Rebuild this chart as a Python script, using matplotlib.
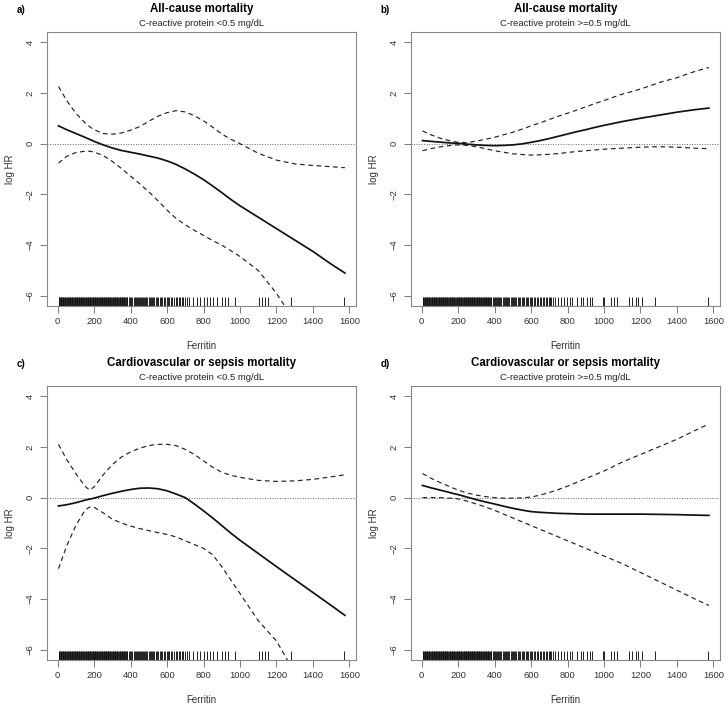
import matplotlib
matplotlib.use('Agg')
import matplotlib.pyplot as plt
import matplotlib.transforms as mtransforms

plt.rcParams['font.family'] = ['Liberation Sans', 'DejaVu Sans']

ferritin = [5, 50, 100, 150, 175, 200, 250, 300, 350, 400, 450, 500, 550, 600, 650,
            700, 750, 800, 850, 900, 950, 1000, 1100, 1200, 1300, 1400, 1500, 1575]

# a) all-cause, CRP < 0.5
a_fit = [0.70, 0.55, 0.40, 0.25, 0.17, 0.09, -0.05, -0.17, -0.27, -0.34, -0.41, -0.49, -0.57, -0.68,
         -0.82, -1.00, -1.20, -1.42, -1.67, -1.93, -2.20, -2.45, -2.90, -3.35, -3.80, -4.25, -4.75, -5.10]
a_up = [2.25, 1.70, 1.20, 0.82, 0.67, 0.55, 0.40, 0.37, 0.42, 0.53, 0.67, 0.88, 1.08, 1.22, 1.30,
        1.25, 1.10, 0.90, 0.65, 0.38, 0.17, 0.00, -0.38, -0.65, -0.80, -0.86, -0.91, -0.95]
a_lo = [-0.77, -0.50, -0.35, -0.30, -0.30, -0.33, -0.47, -0.70, -0.98, -1.28, -1.58, -1.90, -2.25, -2.62,
        -2.95, -3.20, -3.42, -3.62, -3.82, -4.00, -4.22, -4.45, -5.00, -5.90, -7.00, -8.20, -9.40, -10.30]

# b) all-cause, CRP >= 0.5
b_fit = [0.12, 0.09, 0.06, 0.03, 0.02, 0.01, -0.02, -0.05, -0.07, -0.08, -0.07, -0.05, -0.01, 0.05,
         0.12, 0.20, 0.29, 0.38, 0.47, 0.55, 0.64, 0.72, 0.87, 1.00, 1.12, 1.24, 1.34, 1.40]
b_up = [0.50, 0.35, 0.22, 0.12, 0.08, 0.05, 0.04, 0.10, 0.17, 0.25, 0.35, 0.45, 0.57, 0.70, 0.82,
        0.95, 1.08, 1.20, 1.32, 1.45, 1.58, 1.70, 1.95, 2.15, 2.40, 2.60, 2.85, 3.00]
b_lo = [-0.28, -0.20, -0.13, -0.08, -0.06, -0.05, -0.07, -0.12, -0.20, -0.28, -0.34, -0.40, -0.43, -0.45,
        -0.44, -0.42, -0.39, -0.35, -0.31, -0.28, -0.25, -0.22, -0.18, -0.14, -0.12, -0.14, -0.18, -0.20]

# c) cardiovascular or sepsis, CRP < 0.5
c_fit = [-0.33, -0.28, -0.20, -0.10, -0.06, -0.02, 0.08, 0.17, 0.25, 0.32, 0.37, 0.38, 0.35, 0.27,
         0.14, 0.00, -0.25, -0.52, -0.80, -1.10, -1.40, -1.68, -2.20, -2.72, -3.23, -3.74, -4.25, -4.64]
c_up = [2.10, 1.50, 0.95, 0.45, 0.30, 0.42, 0.90, 1.30, 1.60, 1.80, 1.95, 2.05, 2.10, 2.10, 2.05,
        1.90, 1.70, 1.45, 1.20, 1.00, 0.88, 0.80, 0.68, 0.64, 0.66, 0.72, 0.82, 0.90]
c_lo = [-2.80, -1.90, -1.10, -0.50, -0.37, -0.38, -0.60, -0.85, -1.00, -1.12, -1.22, -1.30, -1.38, -1.45,
        -1.55, -1.70, -1.85, -2.00, -2.25, -2.72, -3.25, -3.78, -4.85, -5.65, -6.90, -8.10, -9.30, -10.20]

# d) cardiovascular or sepsis, CRP >= 0.5
d_fit = [0.48, 0.39, 0.30, 0.21, 0.16, 0.12, 0.02, -0.08, -0.17, -0.25, -0.34, -0.42, -0.49, -0.55,
         -0.58, -0.60, -0.62, -0.63, -0.64, -0.65, -0.65, -0.65, -0.65, -0.65, -0.66, -0.67, -0.69, -0.70]
d_up = [0.95, 0.77, 0.60, 0.45, 0.37, 0.30, 0.18, 0.10, 0.04, 0.00, -0.02, -0.02, -0.01, 0.02,
        0.10, 0.20, 0.32, 0.45, 0.60, 0.75, 0.90, 1.05, 1.40, 1.70, 2.00, 2.30, 2.65, 2.90]
d_lo = [0.00, 0.00, 0.00, -0.02, -0.03, -0.05, -0.14, -0.25, -0.37, -0.50, -0.65, -0.80, -0.95, -1.10,
        -1.25, -1.40, -1.55, -1.70, -1.85, -2.00, -2.15, -2.30, -2.60, -2.95, -3.30, -3.65, -4.00, -4.25]

# observed ferritin values (rug)
rug_dense = [6, 9, 13, 17, 21, 24, 28, 32, 36, 40, 43, 47, 51, 55, 59, 62, 66, 70, 74, 78, 81, 85,
             89, 93, 97, 100, 104, 108, 112, 116, 119, 123, 127, 131, 135, 138, 142, 146, 150, 154,
             157, 161, 165, 169, 173, 176, 180, 184, 188, 192, 195, 199, 203, 207, 211, 214, 218,
             222, 226, 230, 233, 237, 241, 245, 249, 252, 256, 260, 264, 268, 271, 275, 279, 283,
             287, 290, 294, 298, 302, 306, 309, 313, 317, 321, 325, 328, 332, 336, 340, 344, 347,
             351, 355, 359, 363, 366, 370, 374, 378, 381]
rug_low = rug_dense + [393, 398, 405, 410, 418, 422, 428, 433, 440, 446, 452, 457, 461, 468, 475,
                       480, 486, 492, 500, 505, 512, 518, 525, 530, 538, 545, 552, 560, 566, 575,
                       582, 590, 598, 605, 612, 620, 630, 640, 648, 656, 665, 672, 680, 690, 700,
                       712, 722, 740, 762, 780, 801, 820, 835, 853, 872, 904, 919, 937, 972,
                       1105, 1120, 1137, 1155, 1279, 1571]
rug_high = rug_dense + [390, 396, 402, 408, 414, 420, 426, 432, 438, 445, 450, 456, 462, 468, 475,
                        481, 488, 494, 500, 507, 514, 520, 527, 534, 540, 548, 556, 563, 570, 578,
                        585, 592, 600, 608, 616, 624, 632, 640, 648, 656, 664, 672, 680, 688, 696,
                        704, 712, 720, 734, 747, 762, 780, 798, 813, 826, 853, 872, 886, 905, 923,
                        935, 996, 1000, 1040, 1054, 1072, 1137, 1155, 1173, 1186, 1209, 1279, 1571]

titles = ['All-cause mortality', 'All-cause mortality',
          'Cardiovascular or sepsis mortality', 'Cardiovascular or sepsis mortality']
subtitles = ['C-reactive protein <0.5 mg/dL', 'C-reactive protein >=0.5 mg/dL',
             'C-reactive protein <0.5 mg/dL', 'C-reactive protein >=0.5 mg/dL']
letters = ['a)', 'b)', 'c)', 'd)']

W, H = 728, 709
fig = plt.figure(figsize=(W / 100, H / 100), dpi=100)

# plot boxes in pixels: left, top
boxes = [(47, 32), (411, 32), (47, 386), (411, 386)]
bw, bh = 309, 274

panels = [(a_fit, a_up, a_lo, rug_low), (b_fit, b_up, b_lo, rug_high),
          (c_fit, c_up, c_lo, rug_low), (d_fit, d_up, d_lo, rug_high)]

for i, (fit, up, lo, rug) in enumerate(panels):
    left, top = boxes[i]
    ax = fig.add_axes([left / W, (H - top - bh) / H, bw / W, bh / H])
    ax.axhline(0, color='#666666', lw=0.7, ls=(0, (1, 1.6)))
    ax.plot(ferritin, up, color='#222222', lw=0.85, dashes=(4, 3))
    ax.plot(ferritin, lo, color='#222222', lw=0.85, dashes=(4, 3))
    ax.plot(ferritin, fit, color='#111111', lw=1.25)
    trans = mtransforms.blended_transform_factory(ax.transData, ax.transAxes)
    ax.vlines(rug, 0, 0.032, transform=trans, color='#111111', lw=0.65)

    ax.set_xlim(-58, 1636)
    ax.set_ylim(-6.4, 4.4)
    ax.set_xticks(range(0, 1601, 200))
    ax.set_yticks([-6, -4, -2, 0, 2, 4])
    ax.tick_params(direction='out', length=5, width=0.6, color='#666666',
                   labelcolor='#333333', labelsize=6.8)
    ax.tick_params(axis='x', pad=3)
    ax.tick_params(axis='y', pad=4)
    for lab in ax.get_yticklabels():
        lab.set_rotation(90)
        lab.set_va('center')
    for s in ax.spines.values():
        s.set_color('#888888')
        s.set_linewidth(0.8)

    ax.text(0.5, -40 / bh, 'Ferritin', transform=ax.transAxes, ha='center', va='center',
            fontsize=7, color='#333333')
    ax.text(-37 / bw, 0.5, 'log HR', transform=ax.transAxes, ha='center', va='center',
            rotation=90, fontsize=7, color='#333333')
    ax.text(0.5, 1 + 23 / bh, titles[i], transform=ax.transAxes, ha='center', va='center',
            fontsize=8.3, fontweight='bold')
    ax.text(0.5, 1 + 8.5 / bh, subtitles[i], transform=ax.transAxes, ha='center', va='center',
            fontsize=6.8, color='#222222')
    ax.text(-26 / bw, 1 + 22 / bh, letters[i], transform=ax.transAxes, ha='center', va='center',
            fontsize=7, fontweight='bold')

fig.savefig('out.png', dpi=100)
